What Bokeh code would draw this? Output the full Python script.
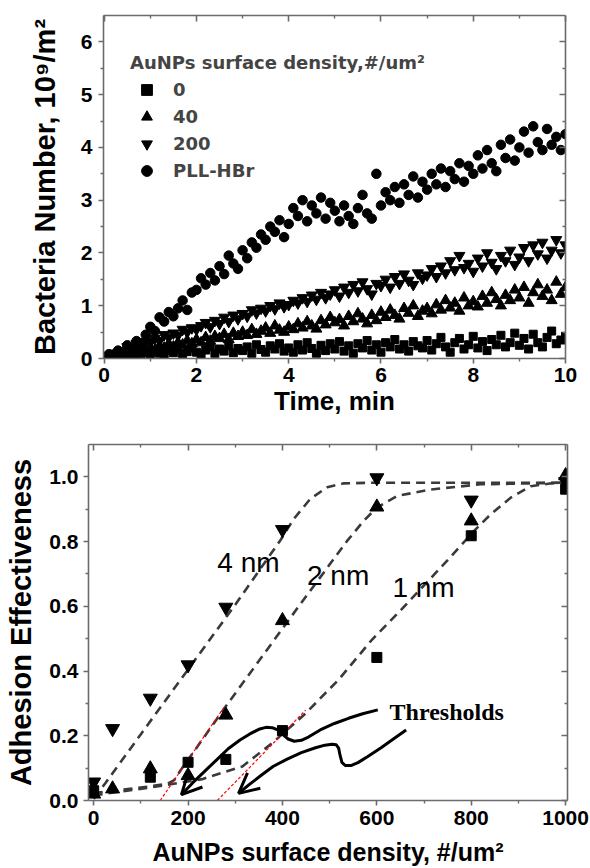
from bokeh.plotting import figure
from bokeh.layouts import column, row
from bokeh.models import (FixedTicker, LinearAxis, Legend, LegendItem, Range1d, Spacer,
                          PrintfTickFormatter, CustomJSTickFormatter, Arrow, OpenHead)
from bokeh.core.properties import value
from bokeh.embed import file_html
from bokeh.resources import INLINE

FONT = "Liberation Sans"
LEGEND_FONT = "DejaVu Sans"
AX = "#6b6b6b"

# ---------------- top panel data: bacteria number (10^9/m^2) vs time (min)
TIME_MIN = [0.0, 0.1, 0.2, 0.3, 0.4, 0.5, 0.6, 0.7, 0.8, 0.9,
            1.0, 1.1, 1.2, 1.3, 1.4, 1.5, 1.6, 1.7, 1.8, 1.9,
            2.0, 2.1, 2.2, 2.3, 2.4, 2.5, 2.6, 2.7, 2.8, 2.9,
            3.0, 3.1, 3.2, 3.3, 3.4, 3.5, 3.6, 3.7, 3.8, 3.9,
            4.0, 4.1, 4.2, 4.3, 4.4, 4.5, 4.6, 4.7, 4.8, 4.9,
            5.0, 5.1, 5.2, 5.3, 5.4, 5.5, 5.6, 5.7, 5.8, 5.9,
            6.0, 6.1, 6.2, 6.3, 6.4, 6.5, 6.6, 6.7, 6.8, 6.9,
            7.0, 7.1, 7.2, 7.3, 7.4, 7.5, 7.6, 7.7, 7.8, 7.9,
            8.0, 8.1, 8.2, 8.3, 8.4, 8.5, 8.6, 8.7, 8.8, 8.9,
            9.0, 9.1, 9.2, 9.3, 9.4, 9.5, 9.6, 9.7, 9.8, 9.9,
            10.0]

DENS_0 = [0.00, 0.02, 0.05, 0.03, 0.08, 0.04, 0.10, 0.06, 0.09, 0.12,
          0.08, 0.14, 0.10, 0.06, 0.15, 0.11, 0.18, 0.09, 0.13, 0.20,
          0.12, 0.08, 0.16, 0.22, 0.10, 0.18, 0.14, 0.24, 0.11, 0.19,
          0.15, 0.22, 0.10, 0.26, 0.17, 0.12, 0.24, 0.18, 0.28, 0.14,
          0.20, 0.12, 0.26, 0.16, 0.30, 0.19, 0.10, 0.25, 0.15, 0.28,
          0.18, 0.32, 0.14, 0.24, 0.10, 0.28, 0.20, 0.34, 0.16, 0.26,
          0.12, 0.30, 0.22, 0.36, 0.18, 0.26, 0.14, 0.32, 0.24, 0.20,
          0.34, 0.16, 0.28, 0.40, 0.22, 0.12, 0.30, 0.38, 0.18, 0.26,
          0.42, 0.20, 0.32, 0.15, 0.36, 0.26, 0.44, 0.22, 0.30, 0.48,
          0.25, 0.38, 0.18, 0.46, 0.30, 0.22, 0.40, 0.52, 0.28, 0.35,
          0.42]

DENS_40 = [0.00, 0.03, 0.06, 0.04, 0.10, 0.08, 0.14, 0.12, 0.18, 0.15,
           0.20, 0.16, 0.24, 0.20, 0.28, 0.22, 0.30, 0.26, 0.34, 0.28,
           0.36, 0.30, 0.40, 0.33, 0.42, 0.38, 0.46, 0.36, 0.48, 0.42,
           0.50, 0.44, 0.55, 0.46, 0.52, 0.58, 0.48, 0.62, 0.54, 0.50,
           0.60, 0.55, 0.66, 0.58, 0.70, 0.62, 0.56, 0.72, 0.64, 0.78,
           0.68, 0.74, 0.62, 0.80, 0.70, 0.85, 0.75, 0.66, 0.82, 0.72,
           0.88, 0.78, 0.92, 0.82, 0.75, 0.95, 0.86, 1.00, 0.80, 0.90,
           0.95, 0.85, 1.02, 0.92, 1.10, 0.96, 1.05, 0.90, 1.15, 1.00,
           1.08, 0.98, 1.18, 1.05, 1.25, 1.12, 1.00, 1.20, 1.10, 1.30,
           1.15, 1.35, 1.05, 1.25, 1.40, 1.18, 1.30, 1.10, 1.45, 1.22,
           1.35]

DENS_200 = [0.00, 0.05, 0.10, 0.08, 0.15, 0.22, 0.18, 0.28, 0.25, 0.32,
            0.30, 0.38, 0.34, 0.45, 0.40, 0.48, 0.44, 0.55, 0.50, 0.58,
            0.55, 0.62, 0.68, 0.60, 0.72, 0.66, 0.78, 0.70, 0.82, 0.75,
            0.85, 0.80, 0.92, 0.86, 0.95, 0.90, 1.00, 0.94, 1.05, 0.98,
            1.02, 1.10, 1.05, 1.15, 1.08, 1.20, 1.12, 1.25, 1.15, 1.22,
            1.30, 1.18, 1.35, 1.25, 1.40, 1.28, 1.45, 1.32, 1.22, 1.42,
            1.38, 1.50, 1.35, 1.55, 1.42, 1.60, 1.48, 1.40, 1.62, 1.52,
            1.58, 1.70, 1.55, 1.75, 1.62, 1.85, 1.68, 1.95, 1.72, 1.80,
            1.65, 1.90, 1.75, 2.00, 1.82, 1.70, 1.95, 1.85, 2.05, 1.78,
            1.92, 2.10, 1.85, 2.15, 1.98, 2.20, 1.90, 2.05, 2.25, 2.00,
            2.15]

PLL_HBR = [0.02, 0.08, 0.05, 0.15, 0.12, 0.25, 0.20, 0.33, 0.28, 0.45,
           0.60, 0.52, 0.78, 0.70, 0.88, 0.80, 0.95, 1.10, 0.92, 1.25,
           1.30, 1.52, 1.40, 1.62, 1.48, 1.75, 1.60, 1.95, 1.80, 1.70,
           2.05, 1.90, 2.20, 2.10, 2.35, 2.25, 2.50, 2.40, 2.62, 2.30,
           2.55, 2.85, 2.70, 3.00, 2.60, 2.90, 2.75, 3.05, 2.65, 2.95,
           2.80, 2.60, 2.90, 2.70, 2.55, 2.85, 3.10, 2.75, 2.65, 3.50,
           2.90, 3.15, 3.00, 3.25, 2.95, 3.30, 3.10, 3.45, 3.05, 3.35,
           3.20, 3.50, 3.30, 3.60, 3.25, 3.55, 3.40, 3.70, 3.35, 3.65,
           3.50, 3.85, 3.60, 3.95, 3.70, 3.55, 4.05, 3.80, 4.15, 3.75,
           4.00, 4.30, 3.90, 4.40, 4.10, 3.95, 4.35, 4.05, 4.20, 3.95,
           4.25]

TOP_X_TICKS = [0, 2, 4, 6, 8, 10]
TOP_X_MINOR = [1, 3, 5, 7, 9]
TOP_Y_TICKS = [0, 1, 2, 3, 4, 5, 6]
TOP_Y_MINOR = [0.5, 1.5, 2.5, 3.5, 4.5, 5.5]
LEGEND_TITLE = "AuNPs surface density,#/um\u00b2"
LEGEND_LABELS = ["0", "40", "200", "PLL-HBr"]

# ---------------- bottom panel data: adhesion effectiveness vs AuNP density
DENSITY_4NM = [0, 40, 120, 200, 280, 400, 600, 800, 1000]
EFF_4NM = [0.057, 0.222, 0.316, 0.419, 0.597, 0.837, 0.997, 0.928, 0.985]
DENSITY_2NM = [0, 40, 120, 200, 280, 400, 600, 800, 1000]
EFF_2NM = [0.020, 0.036, 0.098, 0.077, 0.264, 0.556, 0.907, 0.864, 1.004]
DENSITY_1NM = [0, 120, 200, 280, 400, 600, 800, 1000]
EFF_1NM = [0.030, 0.072, 0.118, 0.127, 0.216, 0.442, 0.818, 0.962]

FIT_4NM_X = [0, 25, 100, 200, 300, 396, 424, 459, 495, 530, 600, 800, 1000]
FIT_4NM_Y = [0.005, 0.054, 0.205, 0.405, 0.605, 0.805, 0.870, 0.932, 0.968, 0.980, 0.982, 0.982, 0.982]
FIT_2NM_X = [0, 90, 155, 170, 185, 279, 438, 537, 572, 600, 643, 714, 820, 1000]
FIT_2NM_Y = [0.023, 0.038, 0.051, 0.062, 0.095, 0.289, 0.607, 0.802, 0.864, 0.905, 0.941, 0.961, 0.977, 0.982]
FIT_1NM_X = [0, 124, 230, 315, 378, 449, 520, 588, 650, 749, 806, 841, 883, 926, 970, 1000]
FIT_1NM_Y = [0.016, 0.041, 0.066, 0.105, 0.177, 0.269, 0.375, 0.494, 0.587, 0.741, 0.833, 0.884, 0.935, 0.971, 0.980, 0.982]

THRESH_A_X = [141, 279]
THRESH_A_Y = [0.0, 0.294]
THRESH_B_X = [262, 449]
THRESH_B_Y = [0.0, 0.279]

ARROW1_X = [602, 570, 540, 510, 480, 455, 440, 425, 412, 400, 390, 378, 365, 350, 330, 310, 285, 260, 235, 210, 186]
ARROW1_Y = [0.280, 0.268, 0.254, 0.238, 0.218, 0.196, 0.186, 0.183, 0.190, 0.205, 0.218, 0.225, 0.226, 0.220, 0.205, 0.187, 0.160, 0.125, 0.090, 0.055, 0.018]
ARROW2_X = [662, 635, 609, 580, 560, 545, 533, 526, 522, 519, 514, 505, 490, 470, 440, 410, 380, 355, 330, 307]
ARROW2_Y = [0.218, 0.190, 0.163, 0.135, 0.117, 0.108, 0.108, 0.118, 0.140, 0.162, 0.172, 0.174, 0.171, 0.163, 0.148, 0.128, 0.105, 0.078, 0.050, 0.022]

BOT_X_TICKS = [0, 200, 400, 600, 800, 1000]
BOT_X_MINOR = [100, 300, 500, 700, 900]
BOT_Y_TICKS = [0.0, 0.2, 0.4, 0.6, 0.8, 1.0]
BOT_Y_MINOR = [0.1, 0.3, 0.5, 0.7, 0.9]

SIZE_LABELS = ["4 nm", "2 nm", "1 nm"]
SIZE_LABEL_X = [262, 452, 633]
SIZE_LABEL_Y = [0.736, 0.695, 0.658]
THRESH_TEXT_X = [627]
THRESH_TEXT_Y = [0.272]


def style_axis(ax, ticks, minor, inward, label_size="21px", hidden=False):
    ax.ticker = FixedTicker(ticks=ticks, minor_ticks=minor)
    ax.axis_line_color = AX
    ax.axis_line_width = 1.6
    ax.major_tick_line_color = AX
    ax.major_tick_line_width = 1.6
    ax.minor_tick_line_color = AX
    ax.minor_tick_line_width = 1.4
    if inward:
        ax.major_tick_in, ax.major_tick_out = 6, 0
        ax.minor_tick_in, ax.minor_tick_out = 3, 0
    else:
        ax.major_tick_in, ax.major_tick_out = 0, 5
        ax.minor_tick_in, ax.minor_tick_out = 0, 3
    ax.major_label_text_font = FONT
    ax.major_label_text_font_style = "bold"
    ax.major_label_text_font_size = label_size
    ax.major_label_text_color = "black"
    ax.axis_label_text_font = FONT
    ax.axis_label_text_font_style = "bold"
    ax.axis_label_text_color = "black"
    if hidden:
        ax.formatter = CustomJSTickFormatter(code="return ''")
        ax.major_label_standoff = 0


BORDER_L = 88
BORDER_R = 23

# ================= top figure
p1 = figure(width=BORDER_L + 462 + BORDER_R, height=419,
            x_range=Range1d(-0.015, 10.0), y_range=Range1d(0, 6.5),
            output_backend="svg", toolbar_location=None,
            min_border_left=BORDER_L, min_border_right=BORDER_R, min_border_top=15, min_border_bottom=61)
p1.grid.visible = False
p1.outline_line_color = None
p1.background_fill_color = "white"
p1.border_fill_color = "white"

xa = p1.below[0]
ya = p1.left[0]
style_axis(xa, TOP_X_TICKS, TOP_X_MINOR, inward=False)
style_axis(ya, TOP_Y_TICKS, TOP_Y_MINOR, inward=False)
xa.axis_label = "Time, min"
xa.axis_label_text_font_size = "26px"
xa.major_label_standoff = 4
xa.axis_label_standoff = 1
ya.axis_label = "Bacteria Number, 10\u2079/m\u00b2"
ya.axis_label_text_font_size = "29px"
ya.major_label_standoff = 6
ya.axis_label_standoff = 17

top_ax = LinearAxis()
style_axis(top_ax, TOP_X_TICKS, TOP_X_MINOR, inward=True, hidden=True)
p1.add_layout(top_ax, "above")
right_ax = LinearAxis()
style_axis(right_ax, TOP_Y_TICKS, TOP_Y_MINOR, inward=True, hidden=True)
p1.add_layout(right_ax, "right")

r0 = p1.scatter(TIME_MIN, DENS_0, marker="square", size=8, color="black")
r40 = p1.scatter(TIME_MIN, DENS_40, marker="triangle", size=11, color="black")
r200 = p1.scatter(TIME_MIN, DENS_200, marker="inverted_triangle", size=11, color="black")
rpll = p1.scatter(TIME_MIN, PLL_HBR, marker="circle", size=9.5, color="black")

legend = Legend(items=[LegendItem(label=lab, renderers=[r]) for lab, r in
                       zip(LEGEND_LABELS, [r0, r40, r200, rpll])],
                location=(27, 174), title=LEGEND_TITLE)
legend.title_text_font = LEGEND_FONT
legend.title_text_font_style = "bold"
legend.title_text_font_size = "18px"
legend.title_standoff = 3
legend.label_text_font = LEGEND_FONT
legend.label_text_font_style = "bold"
legend.label_text_font_size = "18px"
legend.glyph_width = 33
legend.glyph_height = 27
legend.label_height = 27
legend.label_standoff = 10
legend.spacing = 0
legend.padding = 0
legend.margin = 0
legend.border_line_alpha = 0
legend.background_fill_alpha = 0
p1.add_layout(legend)

# ================= bottom figure
p2 = figure(width=BORDER_L + 479 + BORDER_R, height=449,
            x_range=Range1d(-11, 1004), y_range=Range1d(0, 1.1),
            output_backend="svg", toolbar_location=None,
            min_border_left=BORDER_L, min_border_right=BORDER_R, min_border_top=25, min_border_bottom=67)
p2.grid.visible = False
p2.outline_line_color = None
p2.background_fill_color = "white"
p2.border_fill_color = "white"

bx = p2.below[0]
by = p2.left[0]
style_axis(bx, BOT_X_TICKS, BOT_X_MINOR, inward=False)
style_axis(by, BOT_Y_TICKS, BOT_Y_MINOR, inward=False)
by.formatter = PrintfTickFormatter(format="%.1f")
bx.axis_label = "AuNPs surface density, #/um\u00b2"
bx.axis_label_text_font_size = "25px"
bx.major_label_standoff = 5
bx.axis_label_standoff = 10
by.axis_label = "Adhesion Effectiveness"
by.axis_label_text_font_size = "29px"
by.major_label_standoff = 5
by.axis_label_standoff = 9

top_ax2 = LinearAxis()
style_axis(top_ax2, BOT_X_TICKS, BOT_X_MINOR, inward=True, hidden=True)
p2.add_layout(top_ax2, "above")
right_ax2 = LinearAxis()
style_axis(right_ax2, BOT_Y_TICKS, BOT_Y_MINOR, inward=True, hidden=True)
p2.add_layout(right_ax2, "right")

FIT_COLOR = "#3a3a3a"
for fx, fy in [(FIT_4NM_X, FIT_4NM_Y), (FIT_2NM_X, FIT_2NM_Y), (FIT_1NM_X, FIT_1NM_Y)]:
    p2.line(fx, fy, line_color=FIT_COLOR, line_width=2.6, line_dash="9 6")

for tx, ty in [(THRESH_A_X, THRESH_A_Y), (THRESH_B_X, THRESH_B_Y)]:
    p2.line(tx, ty, line_color="red", line_width=1.2, line_dash="3 2")

p2.scatter(DENSITY_1NM, EFF_1NM, marker="square", size=10, color="black")
p2.scatter(DENSITY_2NM, EFF_2NM, marker="triangle", size=14, color="black")
p2.scatter(DENSITY_4NM, EFF_4NM, marker="inverted_triangle", size=14, color="black")

for axs, ays in [(ARROW1_X, ARROW1_Y), (ARROW2_X, ARROW2_Y)]:
    p2.line(axs, ays, line_color="black", line_width=3)
    p2.add_layout(Arrow(end=OpenHead(size=20, line_width=3, line_color="black"),
                        x_start=axs[-2], y_start=ays[-2], x_end=axs[-1], y_end=ays[-1],
                        line_alpha=0))

p2.text(SIZE_LABEL_X, SIZE_LABEL_Y, text=SIZE_LABELS, text_font=value(FONT),
        text_font_size="28px", text_color="black", text_baseline="alphabetic", text_align="left")
p2.text(THRESH_TEXT_X, THRESH_TEXT_Y, text=["Thresholds"], text_font=value("Liberation Serif"),
        text_font_style="bold", text_font_size="24px", text_color="black",
        text_baseline="alphabetic", text_align="left")

layout = column(row(Spacer(width=15, height=419), p1, spacing=0), p2, spacing=0)
open("out.html", "w").write(file_html(layout, INLINE))
